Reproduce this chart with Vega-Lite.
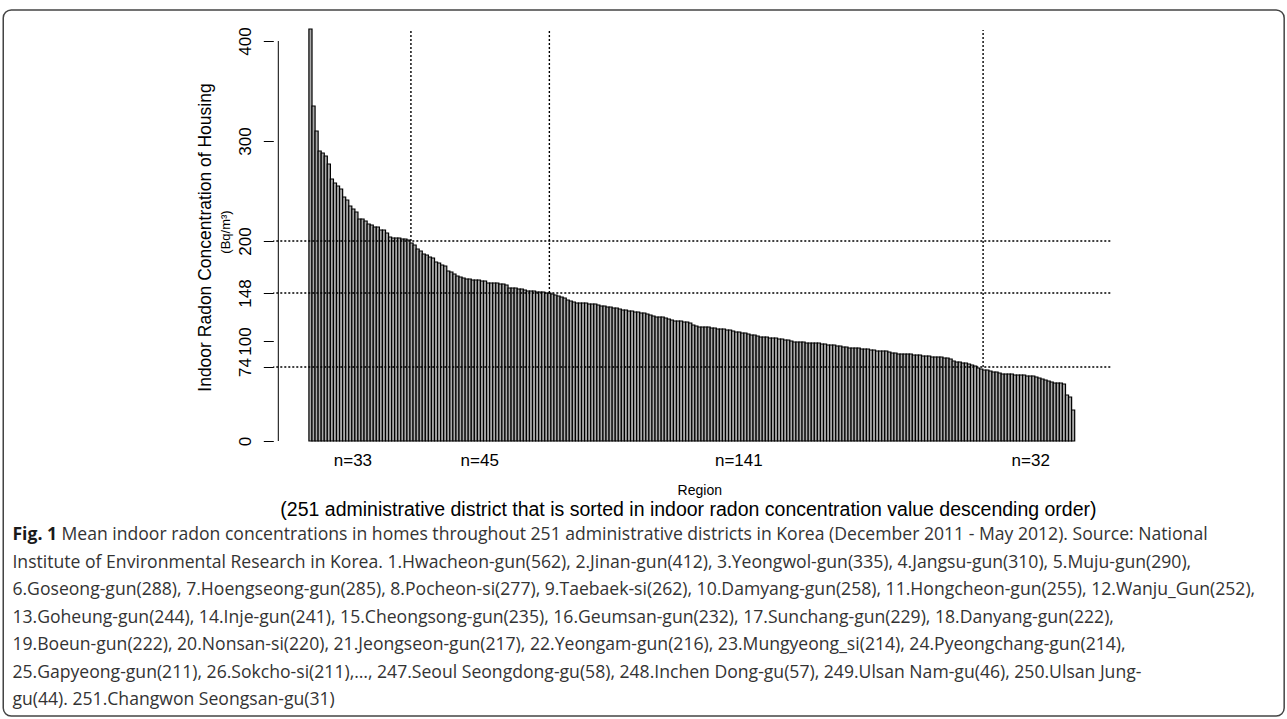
{
  "$schema": "https://vega.github.io/schema/vega-lite/v6.json",
  "width": 837,
  "height": 416,
  "autosize": {"type": "none"},
  "padding": {"left": 273.3, "top": 25, "right": 176.7, "bottom": 278},
  "background": "white",
  "config": {"font": "Liberation Sans", "view": {"stroke": null}},
  "datasets": {
    "districts": [
      {"rank":1,"value":412},{"rank":2,"value":335},{"rank":3,"value":310},{"rank":4,"value":290},{"rank":5,"value":288},
      {"rank":6,"value":285},{"rank":7,"value":277},{"rank":8,"value":262},{"rank":9,"value":258},{"rank":10,"value":255},
      {"rank":11,"value":252},{"rank":12,"value":244},{"rank":13,"value":241},{"rank":14,"value":235},{"rank":15,"value":232},
      {"rank":16,"value":229},{"rank":17,"value":222},{"rank":18,"value":222},{"rank":19,"value":220},{"rank":20,"value":217},
      {"rank":21,"value":216},{"rank":22,"value":214},{"rank":23,"value":214},{"rank":24,"value":211},{"rank":25,"value":211},
      {"rank":26,"value":208},{"rank":27,"value":204},{"rank":28,"value":203},{"rank":29,"value":203},{"rank":30,"value":203},
      {"rank":31,"value":202},{"rank":32,"value":202},{"rank":33,"value":201},{"rank":34,"value":198},{"rank":35,"value":196},
      {"rank":36,"value":192},{"rank":37,"value":190},{"rank":38,"value":187},{"rank":39,"value":186},{"rank":40,"value":184},
      {"rank":41,"value":183},{"rank":42,"value":179},{"rank":43,"value":178},{"rank":44,"value":176},{"rank":45,"value":175},
      {"rank":46,"value":170},{"rank":47,"value":169},{"rank":48,"value":167},{"rank":49,"value":165},{"rank":50,"value":164},
      {"rank":51,"value":163},{"rank":52,"value":162},{"rank":53,"value":162},{"rank":54,"value":161},{"rank":55,"value":161},
      {"rank":56,"value":161},{"rank":57,"value":160},{"rank":58,"value":160},{"rank":59,"value":158},{"rank":60,"value":158},
      {"rank":61,"value":158},{"rank":62,"value":158},{"rank":63,"value":157},{"rank":64,"value":157},{"rank":65,"value":156},
      {"rank":66,"value":153},{"rank":67,"value":153},{"rank":68,"value":153},{"rank":69,"value":152},{"rank":70,"value":152},
      {"rank":71,"value":151},{"rank":72,"value":150},{"rank":73,"value":150},{"rank":74,"value":150},{"rank":75,"value":149},
      {"rank":76,"value":149},{"rank":77,"value":149},{"rank":78,"value":148},{"rank":79,"value":148},{"rank":80,"value":147},
      {"rank":81,"value":146},{"rank":82,"value":145},{"rank":83,"value":144},{"rank":84,"value":143},{"rank":85,"value":141},
      {"rank":86,"value":140},{"rank":87,"value":139},{"rank":88,"value":138},{"rank":89,"value":138},{"rank":90,"value":138},
      {"rank":91,"value":138},{"rank":92,"value":137},{"rank":93,"value":137},{"rank":94,"value":137},{"rank":95,"value":136},
      {"rank":96,"value":135},{"rank":97,"value":135},{"rank":98,"value":134},{"rank":99,"value":134},{"rank":100,"value":133},
      {"rank":101,"value":133},{"rank":102,"value":132},{"rank":103,"value":131},{"rank":104,"value":131},{"rank":105,"value":130},
      {"rank":106,"value":130},{"rank":107,"value":129},{"rank":108,"value":129},{"rank":109,"value":128},{"rank":110,"value":128},
      {"rank":111,"value":127},{"rank":112,"value":126},{"rank":113,"value":125},{"rank":114,"value":124},{"rank":115,"value":124},
      {"rank":116,"value":124},{"rank":117,"value":123},{"rank":118,"value":122},{"rank":119,"value":121},{"rank":120,"value":120},
      {"rank":121,"value":120},{"rank":122,"value":120},{"rank":123,"value":119},{"rank":124,"value":119},{"rank":125,"value":118},
      {"rank":126,"value":116},{"rank":127,"value":115},{"rank":128,"value":114},{"rank":129,"value":114},{"rank":130,"value":114},
      {"rank":131,"value":114},{"rank":132,"value":113},{"rank":133,"value":113},{"rank":134,"value":112},{"rank":135,"value":112},
      {"rank":136,"value":112},{"rank":137,"value":111},{"rank":138,"value":111},{"rank":139,"value":110},{"rank":140,"value":109},
      {"rank":141,"value":109},{"rank":142,"value":108},{"rank":143,"value":108},{"rank":144,"value":107},{"rank":145,"value":106},
      {"rank":146,"value":106},{"rank":147,"value":105},{"rank":148,"value":104},{"rank":149,"value":104},{"rank":150,"value":104},
      {"rank":151,"value":103},{"rank":152,"value":103},{"rank":153,"value":103},{"rank":154,"value":102},{"rank":155,"value":102},
      {"rank":156,"value":101},{"rank":157,"value":101},{"rank":158,"value":100},{"rank":159,"value":99},{"rank":160,"value":99},
      {"rank":161,"value":99},{"rank":162,"value":99},{"rank":163,"value":98},{"rank":164,"value":98},{"rank":165,"value":98},
      {"rank":166,"value":98},{"rank":167,"value":98},{"rank":168,"value":97},{"rank":169,"value":97},{"rank":170,"value":96},
      {"rank":171,"value":96},{"rank":172,"value":96},{"rank":173,"value":95},{"rank":174,"value":95},{"rank":175,"value":94},
      {"rank":176,"value":94},{"rank":177,"value":93},{"rank":178,"value":93},{"rank":179,"value":93},{"rank":180,"value":93},
      {"rank":181,"value":92},{"rank":182,"value":92},{"rank":183,"value":92},{"rank":184,"value":91},{"rank":185,"value":91},
      {"rank":186,"value":90},{"rank":187,"value":90},{"rank":188,"value":90},{"rank":189,"value":90},{"rank":190,"value":89},
      {"rank":191,"value":88},{"rank":192,"value":88},{"rank":193,"value":87},{"rank":194,"value":87},{"rank":195,"value":87},
      {"rank":196,"value":87},{"rank":197,"value":87},{"rank":198,"value":86},{"rank":199,"value":86},{"rank":200,"value":86},
      {"rank":201,"value":85},{"rank":202,"value":85},{"rank":203,"value":85},{"rank":204,"value":84},{"rank":205,"value":84},
      {"rank":206,"value":84},{"rank":207,"value":84},{"rank":208,"value":83},{"rank":209,"value":83},{"rank":210,"value":82},
      {"rank":211,"value":80},{"rank":212,"value":79},{"rank":213,"value":79},{"rank":214,"value":78},{"rank":215,"value":78},
      {"rank":216,"value":77},{"rank":217,"value":76},{"rank":218,"value":75},{"rank":219,"value":73},{"rank":220,"value":72},
      {"rank":221,"value":71},{"rank":222,"value":71},{"rank":223,"value":70},{"rank":224,"value":69},{"rank":225,"value":69},
      {"rank":226,"value":68},{"rank":227,"value":67},{"rank":228,"value":67},{"rank":229,"value":67},{"rank":230,"value":67},
      {"rank":231,"value":66},{"rank":232,"value":66},{"rank":233,"value":66},{"rank":234,"value":66},{"rank":235,"value":65},
      {"rank":236,"value":65},{"rank":237,"value":65},{"rank":238,"value":64},{"rank":239,"value":63},{"rank":240,"value":62},
      {"rank":241,"value":61},{"rank":242,"value":60},{"rank":243,"value":59},{"rank":244,"value":58},{"rank":245,"value":58},
      {"rank":246,"value":58},{"rank":247,"value":57},{"rank":248,"value":46},{"rank":249,"value":44},{"rank":250,"value":31}
    ],
    "thresholds": [
      {"value": 200, "boundary": 33.8},
      {"value": 148, "boundary": 79.0},
      {"value": 74, "boundary": 220.6}
    ]
  },
  "layer": [
    {
      "data": {"name": "districts"},
      "mark": {"type": "bar", "width": 3.1, "fill": "#aaaaaa", "stroke": "#000000", "strokeWidth": 1.2},
      "encoding": {
        "x": {
          "field": "rank", "type": "quantitative",
          "scale": {"domain": [-9.5, 260.5], "nice": false, "zero": false},
          "axis": {
            "values": [14.7, 56.1, 140.7, 236.0],
            "labelExpr": "datum.value < 30 ? 'n=33' : datum.value < 100 ? 'n=45' : datum.value < 200 ? 'n=141' : 'n=32'",
            "domain": false, "ticks": false, "tickSize": 0, "grid": false,
            "labelPadding": 11, "labelFontSize": 17, "labelColor": "black", "labelFont": "Liberation Sans",
            "labelFlush": false, "labelOverlap": false,
            "title": "Region",
            "titleFontSize": 14, "titleFontWeight": "normal", "titleColor": "black", "titleFont": "Liberation Sans",
            "titleBaseline": "middle", "titleAlign": "center", "titleX": 426, "titleY": 49
          }
        },
        "y": {
          "field": "value", "type": "quantitative",
          "scale": {"domain": [0, 416], "nice": false, "zero": false},
          "axis": {
            "values": [0, 74, 100, 148, 200, 300, 400],
            "labelAngle": -90, "labelAlign": "center", "labelBaseline": "alphabetic",
            "labelPadding": 13, "labelFontSize": 17, "labelColor": "black", "labelFont": "Liberation Sans",
            "labelOverlap": false, "labelFlush": false,
            "tickSize": 10, "tickColor": "black", "tickWidth": 1,
            "domain": false, "grid": false,
            "title": "Indoor Radon Concentration of Housing",
            "titleFontSize": 17.5, "titleFontWeight": "normal", "titleColor": "black", "titleFont": "Liberation Sans",
            "titleAngle": 270, "titleBaseline": "middle", "titleAlign": "center", "titleX": -68, "titleY": 212
          }
        }
      }
    },
    {
      "data": {"values": [{"from": 0, "to": 400}]},
      "mark": {"type": "rule", "color": "black", "strokeWidth": 1},
      "encoding": {
        "x": {"datum": -9.5, "type": "quantitative", "scale": {"domain": [-9.5, 260.5], "nice": false, "zero": false}},
        "y": {"field": "from", "type": "quantitative", "scale": {"domain": [0, 416], "nice": false, "zero": false}},
        "y2": {"field": "to"}
      }
    },
    {
      "data": {"name": "thresholds"},
      "mark": {"type": "rule", "color": "black", "strokeWidth": 1.4, "strokeDash": [2, 2]},
      "encoding": {
        "y": {"field": "value", "type": "quantitative", "scale": {"domain": [0, 416], "nice": false, "zero": false}}
      }
    },
    {
      "data": {"name": "thresholds"},
      "mark": {"type": "rule", "color": "black", "strokeWidth": 1.4, "strokeDash": [2, 2]},
      "encoding": {
        "x": {"field": "boundary", "type": "quantitative", "scale": {"domain": [-9.5, 260.5], "nice": false, "zero": false}},
        "y": {"field": "value", "type": "quantitative", "scale": {"domain": [0, 416], "nice": false, "zero": false}},
        "y2": {"datum": 411}
      }
    },
    {
      "data": {"values": [{"unit": "(Bq/m³)"}]},
      "mark": {"type": "text", "angle": 270, "fontSize": 13, "font": "Liberation Sans", "color": "black", "align": "center", "baseline": "middle"},
      "encoding": {
        "text": {"field": "unit"},
        "x": {"datum": -26.5, "type": "quantitative", "scale": {"domain": [-9.5, 260.5], "nice": false, "zero": false}},
        "y": {"datum": 209, "type": "quantitative", "scale": {"domain": [0, 416], "nice": false, "zero": false}}
      }
    },
    {
      "data": {"values": [{"note": "(251 administrative district that is sorted in indoor radon concentration value descending order)"}]},
      "mark": {"type": "text", "fontSize": 19.5, "font": "Liberation Sans", "color": "black", "align": "center", "baseline": "middle"},
      "encoding": {
        "text": {"field": "note"},
        "x": {"datum": 124.4, "type": "quantitative", "scale": {"domain": [-9.5, 260.5], "nice": false, "zero": false}},
        "y": {"datum": -69, "type": "quantitative", "scale": {"domain": [0, 416], "nice": false, "zero": false}}
      }
    },
    {
      "data": {"values": [{"frame": "caption box"}]},
      "mark": {"type": "rect", "filled": false, "stroke": "#444444", "strokeWidth": 1.5, "cornerRadius": 8},
      "encoding": {
        "x": {"datum": -99.3, "type": "quantitative", "scale": {"domain": [-9.5, 260.5], "nice": false, "zero": false}},
        "x2": {"datum": 318.9},
        "y": {"datum": 431, "type": "quantitative", "scale": {"domain": [0, 416], "nice": false, "zero": false}},
        "y2": {"datum": -275}
      }
    },
    {
      "data": {"values": [{"label": "Fig. 1"}]},
      "mark": {"type": "text", "fontSize": 17.6, "font": "Open Sans", "fontWeight": "bold", "color": "#1a1a1a", "align": "left", "baseline": "middle"},
      "encoding": {
        "text": {"field": "label"},
        "x": {"datum": -96.3, "type": "quantitative", "scale": {"domain": [-9.5, 260.5], "nice": false, "zero": false}},
        "y": {"datum": -94, "type": "quantitative", "scale": {"domain": [0, 416], "nice": false, "zero": false}}
      }
    },
    {
      "data": {"values": [{"label": "Mean indoor radon concentrations in homes throughout 251 administrative districts in Korea (December 2011 - May 2012). Source: National"}]},
      "mark": {"type": "text", "fontSize": 17.6, "font": "Open Sans", "color": "#333333", "align": "left", "baseline": "middle"},
      "encoding": {
        "text": {"field": "label"},
        "x": {"datum": -80.3, "type": "quantitative", "scale": {"domain": [-9.5, 260.5], "nice": false, "zero": false}},
        "y": {"datum": -94, "type": "quantitative", "scale": {"domain": [0, 416], "nice": false, "zero": false}}
      }
    },
    {
      "data": {"values": [{"part": "rest"}]},
      "mark": {
        "type": "text", "fontSize": 17.6, "font": "Open Sans", "color": "#333333", "align": "left", "baseline": "middle", "lineHeight": 27.5,
        "text": [
          "Institute of Environmental Research in Korea. 1.Hwacheon-gun(562), 2.Jinan-gun(412), 3.Yeongwol-gun(335), 4.Jangsu-gun(310), 5.Muju-gun(290),",
          "6.Goseong-gun(288), 7.Hoengseong-gun(285), 8.Pocheon-si(277), 9.Taebaek-si(262), 10.Damyang-gun(258), 11.Hongcheon-gun(255), 12.Wanju_Gun(252),",
          "13.Goheung-gun(244), 14.Inje-gun(241), 15.Cheongsong-gun(235), 16.Geumsan-gun(232), 17.Sunchang-gun(229), 18.Danyang-gun(222),",
          "19.Boeun-gun(222), 20.Nonsan-si(220), 21.Jeongseon-gun(217), 22.Yeongam-gun(216), 23.Mungyeong_si(214), 24.Pyeongchang-gun(214),",
          "25.Gapyeong-gun(211), 26.Sokcho-si(211),…, 247.Seoul Seongdong-gu(58), 248.Inchen Dong-gu(57), 249.Ulsan Nam-gu(46), 250.Ulsan Jung-",
          "gu(44). 251.Changwon Seongsan-gu(31)"
        ]
      },
      "encoding": {
        "x": {"datum": -96.3, "type": "quantitative", "scale": {"domain": [-9.5, 260.5], "nice": false, "zero": false}},
        "y": {"datum": -121.5, "type": "quantitative", "scale": {"domain": [0, 416], "nice": false, "zero": false}}
      }
    }
  ]
}
